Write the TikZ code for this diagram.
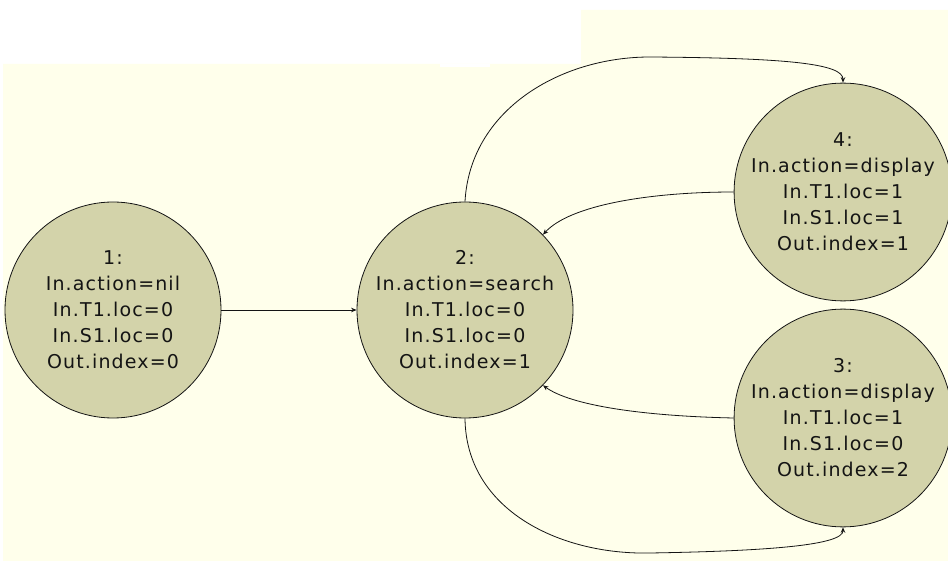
\documentclass[tikz,border=0pt]{standalone}
\usepackage{fontspec}
\setmainfont{DejaVu Sans}
\newfontfamily\nodefont[LetterSpace=6]{DejaVu Sans}
\usetikzlibrary{arrows.meta}
\definecolor{cream}{RGB}{255,255,235}
\definecolor{nodefill}{RGB}{211,211,170}
\definecolor{ink}{RGB}{20,20,20}
\begin{document}
\begin{tikzpicture}[x=1pt,y=-1pt,
  state/.style={circle, draw=ink, line width=0.8pt, fill=nodefill, minimum size=216pt,
    inner sep=0pt, align=center, font=\nodefont\fontsize{19}{26}\selectfont, text=ink},
  edge/.style={draw=ink, line width=0.8pt, -{Stealth[length=5.5pt,width=4.5pt]}}]
\useasboundingbox (0,0) rectangle (948,561);
\fill[white] (0,0) rectangle (948,561);
\fill[cream] (3,64) -- (581,64) -- (581,10) -- (948,10) -- (948,561) -- (3,561) -- cycle;
\fill[white] (440,64) rectangle (490,67);

\node[state] (n1) at (113,310) {1:\\In.action=nil\\In.T1.loc=0\\In.S1.loc=0\\Out.index=0};
\node[state] (n2) at (465,310) {2:\\In.action=search\\In.T1.loc=0\\In.S1.loc=0\\Out.index=1};
\node[state, minimum size=214pt] (n4) at (843,192) {4:\\In.action=display\\In.T1.loc=1\\In.S1.loc=1\\Out.index=1};
\node[state, minimum size=214pt] (n3) at (843,418) {3:\\In.action=display\\In.T1.loc=1\\In.S1.loc=0\\Out.index=2};

\draw[edge] (n1.east) -- (n2.west);
\draw[edge] (n2.north) .. controls (470,110) and (560,57) .. (650,57)
  .. controls (790,58) and (843,64) .. (n4.north);
\draw[edge] (n4.west) .. controls (650,192) and (570,205) .. (n2.44);
\draw[edge] (n3.west) .. controls (640,416) and (570,405) .. (n2.-44);
\draw[edge] (n2.south) .. controls (466,510) and (560,555) .. (650,553)
  .. controls (770,551) and (843,545) .. (n3.south);
\end{tikzpicture}
\end{document}
